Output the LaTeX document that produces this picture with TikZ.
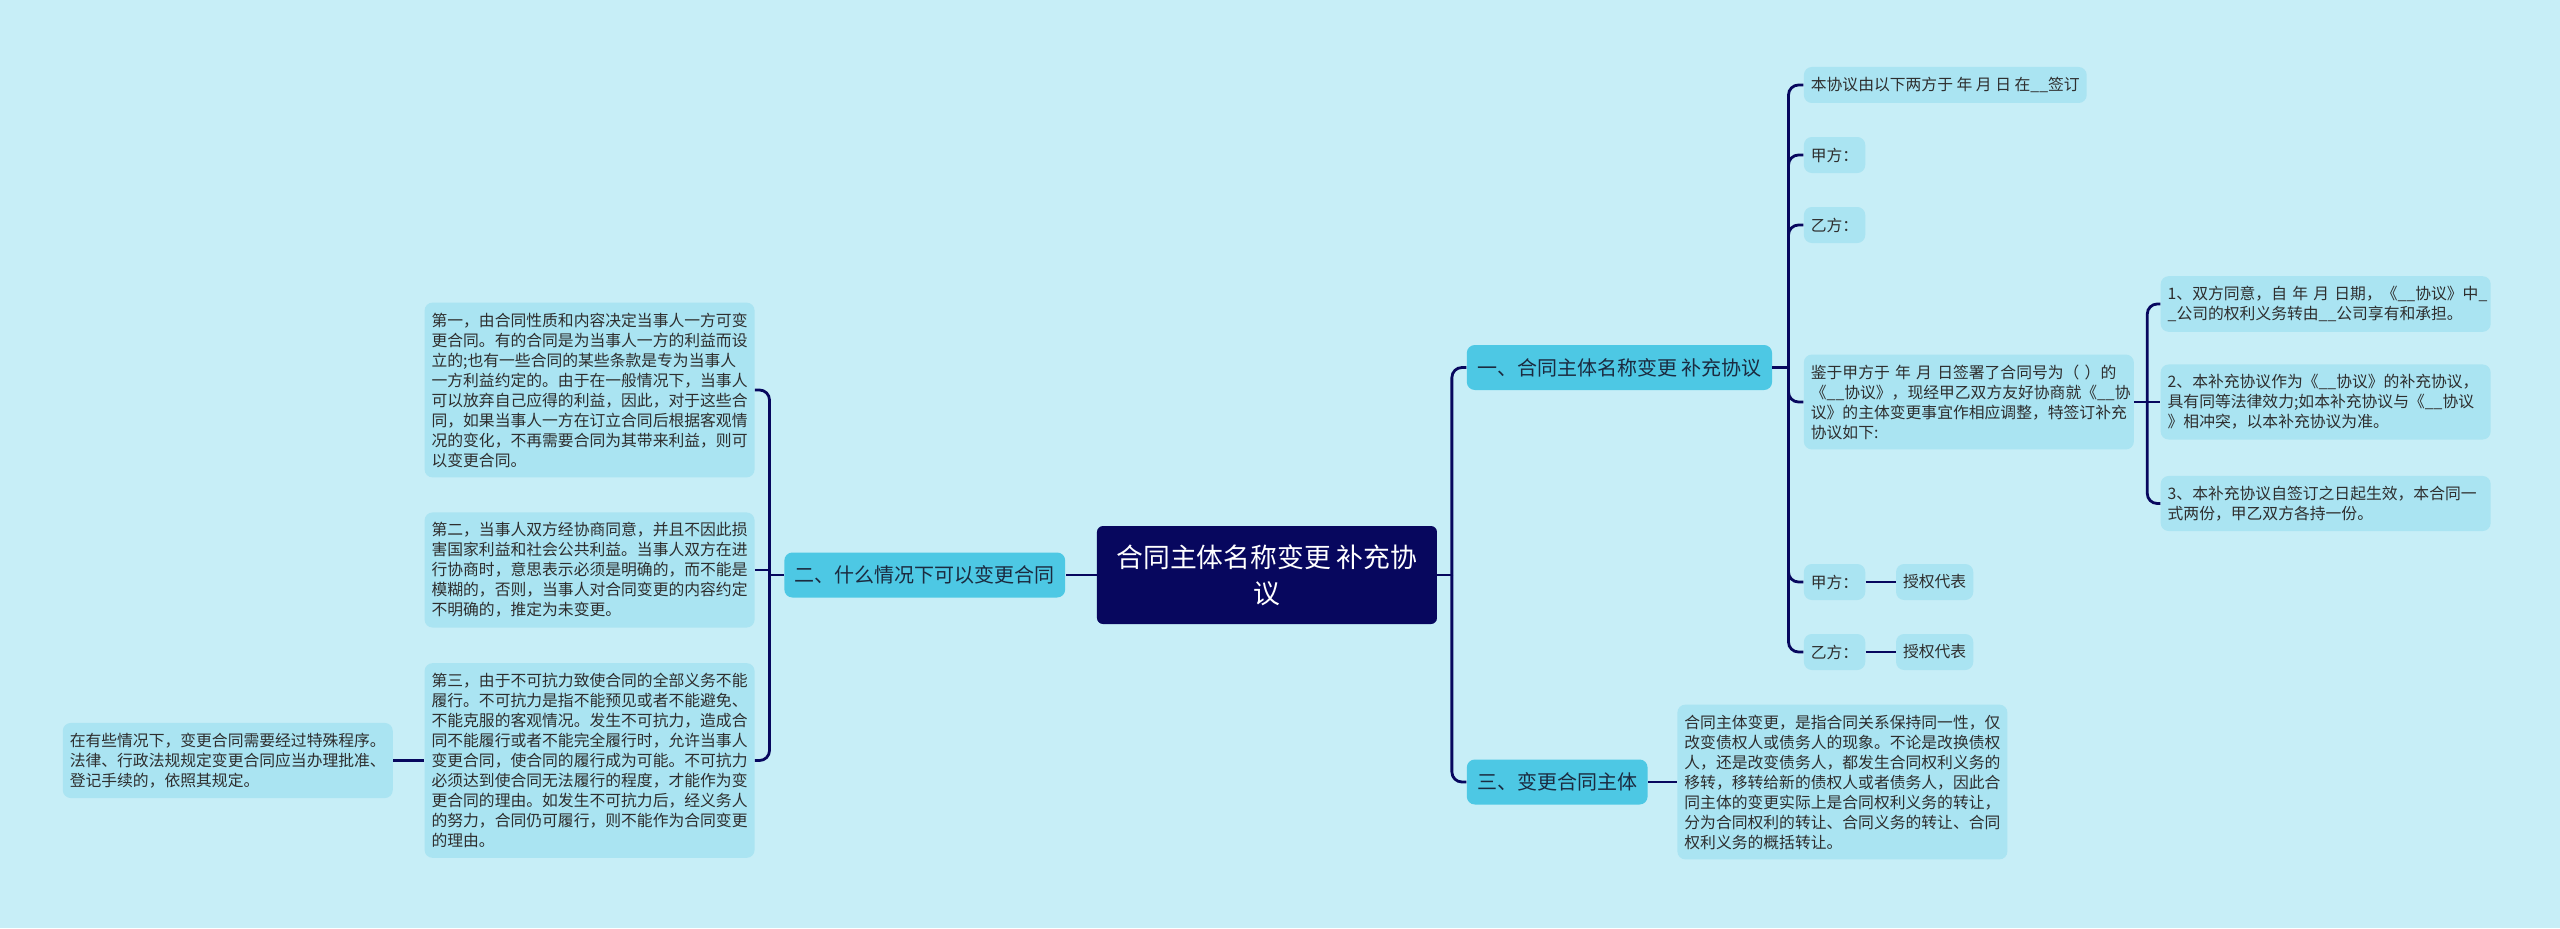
\documentclass[tikz,border=0pt]{standalone}
\usepackage{fontspec}
\setmainfont{Noto Sans CJK SC}
\usepackage{xcolor}
\usepackage{tikz}
\usetikzlibrary{positioning,calc}
\definecolor{bgcyan}{HTML}{C7EEF7}
\definecolor{leafcyan}{HTML}{AAE4F2}
\definecolor{seccyan}{HTML}{4DC8E4}
\definecolor{rootnavy}{HTML}{07075E}
\definecolor{inkgray}{HTML}{2E2E2E}
\definecolor{inknavy}{HTML}{1B2B40}

\begin{document}
\begin{tikzpicture}[
  rootblock/.style={rectangle,fill=rootnavy,rounded corners=3pt,minimum width=170pt,minimum height=49pt,align=center,text=white,font=\fontsize{13.4pt}{18pt}\selectfont},
  secblock/.style={rectangle,fill=seccyan,rounded corners=4pt,minimum height=22.5pt,inner xsep=5.2pt,text=inknavy,font=\fontsize{10pt}{12pt}\selectfont},
  tagblock/.style={rectangle,fill=leafcyan,rounded corners=4pt,minimum height=18pt,inner xsep=3.5pt,inner ysep=5pt,text=inkgray,font=\fontsize{7.9pt}{10pt}\selectfont},
  leafblock/.style={tagblock,text width=158pt,align=left},
  link/.style={draw=rootnavy,line width=1.4pt,rounded corners=5pt}
]
\path[use as bounding box,fill=bgcyan] (-633.5pt,-176.5pt) rectangle (646.5pt,287.5pt);
\node[rootblock] (root) at (0,0) {合同主体名称变更 补充协\\议};
\node[secblock,right=14.5pt of root,yshift=103.75pt] (sec1) {一、合同主体名称变更 补充协议};
\node[secblock,left=15.5pt of root] (sec2) {二、什么情况下可以变更合同};
\node[secblock,right=14.5pt of root,yshift=-103.5pt] (sec3) {三、变更合同主体};
% first branch
\node[tagblock,right=15.5pt of sec1,yshift=141.25pt] (date) {本协议由以下两方于 年 月 日 在\_\_签订};
\node[tagblock,right=15.5pt of sec1,yshift=106.25pt] (jiaA) {甲方：};
\node[tagblock,right=15.5pt of sec1,yshift=71.25pt] (yiA) {乙方：};
\node[leafblock,right=15.5pt of sec1,yshift=-17.25pt] (whereas) {鉴于甲方于~年~月~日签署了合同号为（~）的\\《\_\_协议》，现经甲乙双方友好协商就《\_\_协\\议》的主体变更事宜作相应调整，特签订补充\\协议如下:};
\node[tagblock,right=15.5pt of sec1,yshift=-107.25pt] (jiaB) {甲方：};
\node[tagblock,right=15.5pt of sec1,yshift=-142.25pt] (yiB) {乙方：};
\node[tagblock,right=15pt of jiaB] (repA) {授权代表};
\node[tagblock,right=15pt of yiB] (repB) {授权代表};
\node[leafblock,right=13pt of whereas,yshift=49pt] (term1) {1、双方同意，自~年~月~日期，《\_\_协议》中\_\\\_公司的权利义务转由\_\_公司享有和承担。};
\node[leafblock,right=13pt of whereas] (term2) {2、本补充协议作为《\_\_协议》的补充协议，\\具有同等法律效力;如本补充协议与《\_\_协议\\》相冲突，以本补充协议为准。};
\node[leafblock,right=13pt of whereas,yshift=-50.75pt] (term3) {3、本补充协议自签订之日起生效，本合同一\\式两份，甲乙双方各持一份。};
% second branch
\node[leafblock,left=14.5pt of sec2,yshift=92.5pt] (case1) {第一，由合同性质和内容决定当事人一方可变\\更合同。有的合同是为当事人一方的利益而设\\立的;也有一些合同的某些条款是专为当事人\\一方利益约定的。由于在一般情况下，当事人\\可以放弃自己应得的利益，因此，对于这些合\\同，如果当事人一方在订立合同后根据客观情\\况的变化，不再需要合同为其带来利益，则可\\以变更合同。};
\node[leafblock,left=14.5pt of sec2,yshift=2.5pt] (case2) {第二，当事人双方经协商同意，并且不因此损\\害国家利益和社会公共利益。当事人双方在进\\行协商时，意思表示必须是明确的，而不能是\\模糊的，否则，当事人对合同变更的内容约定\\不明确的，推定为未变更。};
\node[leafblock,left=14.5pt of sec2,yshift=-92.75pt] (case3) {第三，由于不可抗力致使合同的全部义务不能\\履行。不可抗力是指不能预见或者不能避免、\\不能克服的客观情况。发生不可抗力，造成合\\同不能履行或者不能完全履行时，允许当事人\\变更合同，使合同的履行成为可能。不可抗力\\必须达到使合同无法履行的程度，才能作为变\\更合同的理由。如发生不可抗力后，经义务人\\的努力，合同仍可履行，则不能作为合同变更\\的理由。};
\node[leafblock,left=15.5pt of case3] (approval) {在有些情况下，变更合同需要经过特殊程序。\\法律、行政法规规定变更合同应当办理批准、\\登记手续的，依照其规定。};
% third branch
\node[leafblock,right=14.5pt of sec3] (subject) {合同主体变更，是指合同关系保持同一性，仅\\改变债权人或债务人的现象。不论是改换债权\\人，还是改变债务人，都发生合同权利义务的\\移转，移转给新的债权人或者债务人，因此合\\同主体的变更实际上是合同权利义务的转让，\\分为合同权利的转让、合同义务的转让、合同\\权利义务的概括转让。};
% connectors
\coordinate (rootR) at ($(root.east)+(7.25pt,0)$);
\draw[link] (root.east)--(rootR); \draw[link] (rootR)|-(sec1.west); \draw[link] (rootR)|-(sec3.west);
\draw[link] (root.west)--(sec2.east);
\coordinate (sec1R) at ($(sec1.east)+(8pt,0)$);
\draw[link] (sec1.east)--(sec1R);
\foreach \leaf in {date,jiaA,yiA,whereas,jiaB,yiB} \draw[link] (sec1R)|-(\leaf.west);
\draw[link] (jiaB)--(repA); \draw[link] (yiB)--(repB);
\coordinate (whereasR) at ($(whereas.east)+(6.5pt,0)$);
\draw[link] (whereas.east)--(term2.west); \draw[link] (whereasR)|-(term1.west); \draw[link] (whereasR)|-(term3.west);
\coordinate (sec2L) at ($(sec2.west)-(7.25pt,0)$);
\draw[link] (sec2.west)--(sec2L); \draw[link] (sec2L)|-(case1.east); \draw[link] (sec2L)|-(case3.east);
\draw[link] (case2.east)--(case2.east-|sec2L);
\draw[link] (case3)--(approval);
\draw[link] (sec3)--(subject);
\end{tikzpicture}
\end{document}
